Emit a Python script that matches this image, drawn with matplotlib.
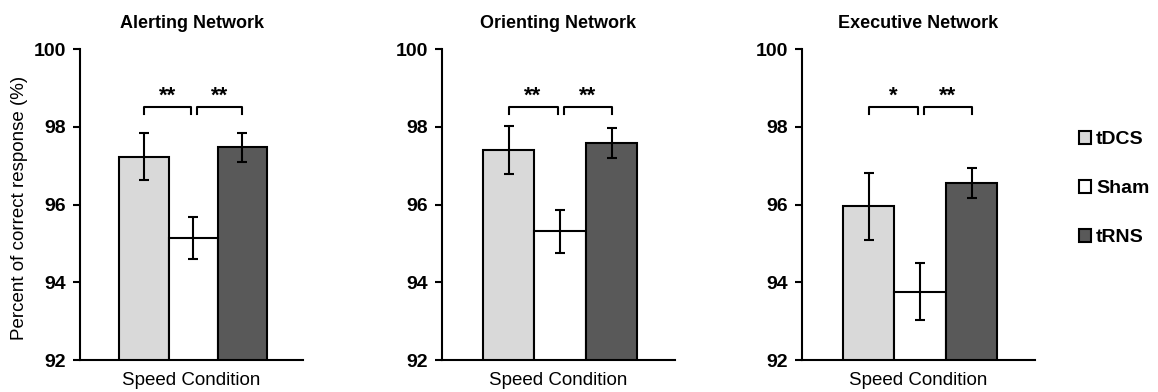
import numpy as np
import matplotlib.pyplot as plt
from matplotlib.patches import Patch

plt.rcParams['font.family'] = ['Liberation Sans', 'DejaVu Sans']

networks = ["Alerting Network", "Orienting Network", "Executive Network"]
groups = ["tDCS", "Sham", "tRNS"]
colors = ["#d9d9d9", "#ffffff", "#595959"]

# mean and error (SE) per network, order tDCS / Sham / tRNS
means = [
    [97.23, 95.13, 97.47],
    [97.40, 95.31, 97.58],
    [95.96, 93.76, 96.56],
]
errs = [
    [0.61, 0.54, 0.37],
    [0.61, 0.55, 0.38],
    [0.86, 0.74, 0.38],
]
stars = [["**", "**"], ["**", "**"], ["*", "**"]]

# axes boxes in figure fraction
boxes = [
    [0.0691, 0.0816, 0.1926, 0.793],
    [0.3814, 0.0816, 0.2015, 0.793],
    [0.6923, 0.0816, 0.2015, 0.793],
]

fig = plt.figure(figsize=(11.58, 3.92), dpi=100)

x = np.array([-1, 0, 1])
for i in range(3):
    ax = fig.add_axes(boxes[i])
    ax.bar(x, means[i], width=1.0, bottom=0, color=colors, edgecolor="black",
           linewidth=1.5, zorder=2)
    ax.errorbar(x, means[i], yerr=errs[i], fmt="none", ecolor="black",
                elinewidth=1.5, capsize=3.5, capthick=1.5, zorder=3)
    ax.set_ylim(92, 100)
    ax.set_xlim(-2.3, 2.23)
    ax.set_yticks([92, 94, 96, 98, 100])
    ax.set_xticks([])
    for lab in ax.get_yticklabels():
        lab.set_fontweight("bold")
    ax.tick_params(axis="y", labelsize=14, width=1.5, length=5, pad=5)
    for s in ["top", "right"]:
        ax.spines[s].set_visible(False)
    ax.spines["left"].set_linewidth(1.5)
    ax.spines["bottom"].set_linewidth(1.5)
    ax.set_title(networks[i], fontsize=13, fontweight="bold", pad=15)
    ax.set_xlabel("Speed Condition", fontsize=13.5, labelpad=8.5)
    if i == 0:
        ax.set_ylabel("Percent of correct response (%)", fontsize=13.5)
        ax.yaxis.set_label_coords(-0.235, 0.49)

    # significance brackets
    ytop, ylow = 98.5, 98.33
    pairs = [(-1, -0.05), (0.08, 1.0)]
    for (a, b), s in zip(pairs, stars[i]):
        ax.plot([a, a, b, b], [ylow, ytop, ytop, ylow], color="black", lw=1.5,
                clip_on=False)
        ax.text((a + b) / 2, ytop + 0.02, s, ha="center", va="bottom",
                fontsize=16, fontweight="bold")

handles = [Patch(facecolor=c, edgecolor="black", linewidth=1.5) for c in colors]
fig.legend(handles, groups, loc="upper left", bbox_to_anchor=(0.917, 0.71),
           frameon=False, handlelength=0.6, handleheight=0.6, handletextpad=0.25,
           labelspacing=1.65, prop={"weight": "bold", "size": 14})

fig.savefig("out.png", dpi=100)
